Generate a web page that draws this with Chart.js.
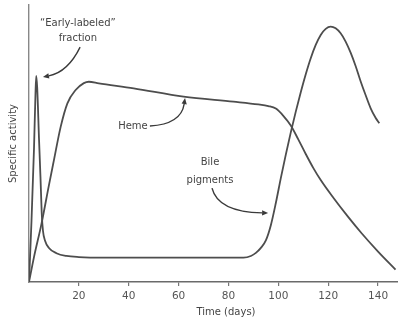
<!DOCTYPE html>
<html>
<head>
<meta charset="utf-8">
<script src="https://cdn.jsdelivr.net/npm/chart.js@4"></script>
<style>
  html, body { margin: 0; padding: 0; background: #fff; }
  #wrap { width: 398px; height: 320px; position: relative; }
</style>
</head>
<body>
<div id="wrap"><canvas id="c" width="398" height="320"></canvas></div>
<script>
// ---- data (days, relative specific activity) ----
const hemeDays   = [0, 2, 5, 8, 10, 12.7, 15.4, 18.7, 22, 24, 28, 42, 62, 82, 92, 96, 99, 102, 105, 108, 111, 114, 117, 122, 128, 133.4, 140, 147];
const hemeValues = [0, 9, 21, 35, 44, 56, 64.5, 69.3, 71.8, 72.3, 71.7, 69.9, 66.9, 65.1, 64.1, 63.5, 62.6, 60, 56.5, 51.5, 46.2, 41.2, 36.8, 30.5, 23.5, 17.6, 11, 4.5];

const bileDays   = [0, 1, 2, 2.6, 2.9, 3.3, 4, 4.6, 5.1, 5.6, 6.4, 8, 11, 15, 20, 30, 86, 89, 91, 93, 95, 97, 99, 101, 103, 105, 107, 109, 111, 113, 115, 117, 119, 121, 123, 125, 127, 129, 131, 133, 135, 137, 139, 140.5];
const bileValues = [0, 22, 48, 68, 74.4, 70, 52, 38, 25, 18.5, 15, 12.3, 10.4, 9.4, 9, 8.8, 8.8, 9.4, 10.5, 12.3, 15, 20.5, 28.5, 37.5, 46, 54, 61.5, 68.5, 75, 80.8, 85.6, 89.2, 91.4, 92.2, 91.6, 89.8, 86.8, 82.8, 78, 72.5, 67.5, 62.8, 59.3, 57.3];

const xTickValues = [20, 40, 60, 80, 100, 120, 140];
const xTitle = 'Time (days)';
const yTitle = 'Specific activity';

// annotation labels (positions in data units)
const labelTexts = ['\u201CEarly-labeled\u201D', 'fraction', 'Heme', 'Bile', 'pigments', xTitle];
const labelX     = [19.6, 19.6, 41.7, 72.6, 72.6, 79.0];
const labelY     = [93.5, 88.1, 56.3, 43.0, 36.5, -10.8];

// arrows: start, control, end (data units)
const arrowStartX = [20.5, 48.5, 73.4];
const arrowStartY = [84.8, 56.3, 33.9];
const arrowCtrlX  = [15.6, 61.0, 75.8];
const arrowCtrlY  = [75.8, 57.0, 25.3];
const arrowEndX   = [5.6, 62.6, 95.9];
const arrowEndY   = [74.0, 66.4, 24.9];

const toPts = (xs, ys) => xs.map((x, i) => ({ x: x, y: ys[i] }));

const LINE = '#4d4d4d';
const TEXT = '#444';
const FONT = '"DejaVu Sans", Verdana, sans-serif';

const annotate = {
  id: 'annotate',
  afterDatasetsDraw(chart) {
    const { ctx } = chart;
    const xs = chart.scales.x, ys = chart.scales.y;
    ctx.save();
    ctx.fillStyle = TEXT;
    ctx.font = '10px ' + FONT;
    ctx.textAlign = 'center';
    ctx.textBaseline = 'middle';
    labelTexts.forEach((t, i) => {
      ctx.fillText(t, xs.getPixelForValue(labelX[i]), ys.getPixelForValue(labelY[i]));
    });
    ctx.strokeStyle = '#3a3a3a';
    ctx.fillStyle = '#3a3a3a';
    ctx.lineWidth = 1.4;
    arrowStartX.forEach((_, i) => {
      const sx = xs.getPixelForValue(arrowStartX[i]), sy = ys.getPixelForValue(arrowStartY[i]);
      const cx = xs.getPixelForValue(arrowCtrlX[i]), cy = ys.getPixelForValue(arrowCtrlY[i]);
      const ex = xs.getPixelForValue(arrowEndX[i]), ey = ys.getPixelForValue(arrowEndY[i]);
      const ang = Math.atan2(ey - cy, ex - cx);
      const L = 6, W = 2.6;
      const bx = ex - L * Math.cos(ang), by = ey - L * Math.sin(ang);
      ctx.beginPath();
      ctx.moveTo(sx, sy);
      ctx.quadraticCurveTo(cx, cy, bx, by);
      ctx.stroke();
      ctx.beginPath();
      ctx.moveTo(ex, ey);
      ctx.lineTo(bx + W * Math.sin(ang), by - W * Math.cos(ang));
      ctx.lineTo(bx - W * Math.sin(ang), by + W * Math.cos(ang));
      ctx.closePath();
      ctx.fill();
    });
    ctx.restore();
  }
};

new Chart(document.getElementById('c'), {
  type: 'line',
  data: {
    datasets: [
      { label: 'Heme', data: toPts(hemeDays, hemeValues), borderColor: LINE, borderWidth: 1.8,
        pointRadius: 0, cubicInterpolationMode: 'monotone', fill: false },
      { label: 'Bile pigments', data: toPts(bileDays, bileValues), borderColor: LINE, borderWidth: 1.8,
        pointRadius: 0, cubicInterpolationMode: 'monotone', fill: false }
    ]
  },
  options: {
    responsive: false,
    animation: false,
    devicePixelRatio: 1,
    layout: { padding: { left: 0, right: 0, top: 5, bottom: 0 } },
    plugins: { legend: { display: false }, tooltip: { enabled: false } },
    scales: {
      x: {
        type: 'linear', min: 0, max: 148,
        afterBuildTicks(scale) { scale.ticks = xTickValues.map(v => ({ value: v })); },
        afterFit(scale) { scale.height = 38; },
        ticks: { color: '#555', font: { size: 10.5, family: FONT }, padding: 4, autoSkip: false, maxRotation: 0 },
        grid: { drawOnChartArea: false, drawTicks: true, tickLength: 4, color: '#777', lineWidth: 1.2 },
        border: { display: true, color: '#6a6a6a', width: 1.6 }
      },
      y: {
        min: 0, max: 100,
        afterFit(scale) { scale.width = 29; },
        ticks: { display: false },
        grid: { display: false, drawTicks: false },
        border: { display: true, color: '#888', width: 1.4 },
        title: { display: true, text: yTitle, color: TEXT, font: { size: 10, family: FONT }, padding: { top: 7, bottom: 0 } }
      }
    }
  },
  plugins: [annotate]
});
</script>
</body>
</html>
